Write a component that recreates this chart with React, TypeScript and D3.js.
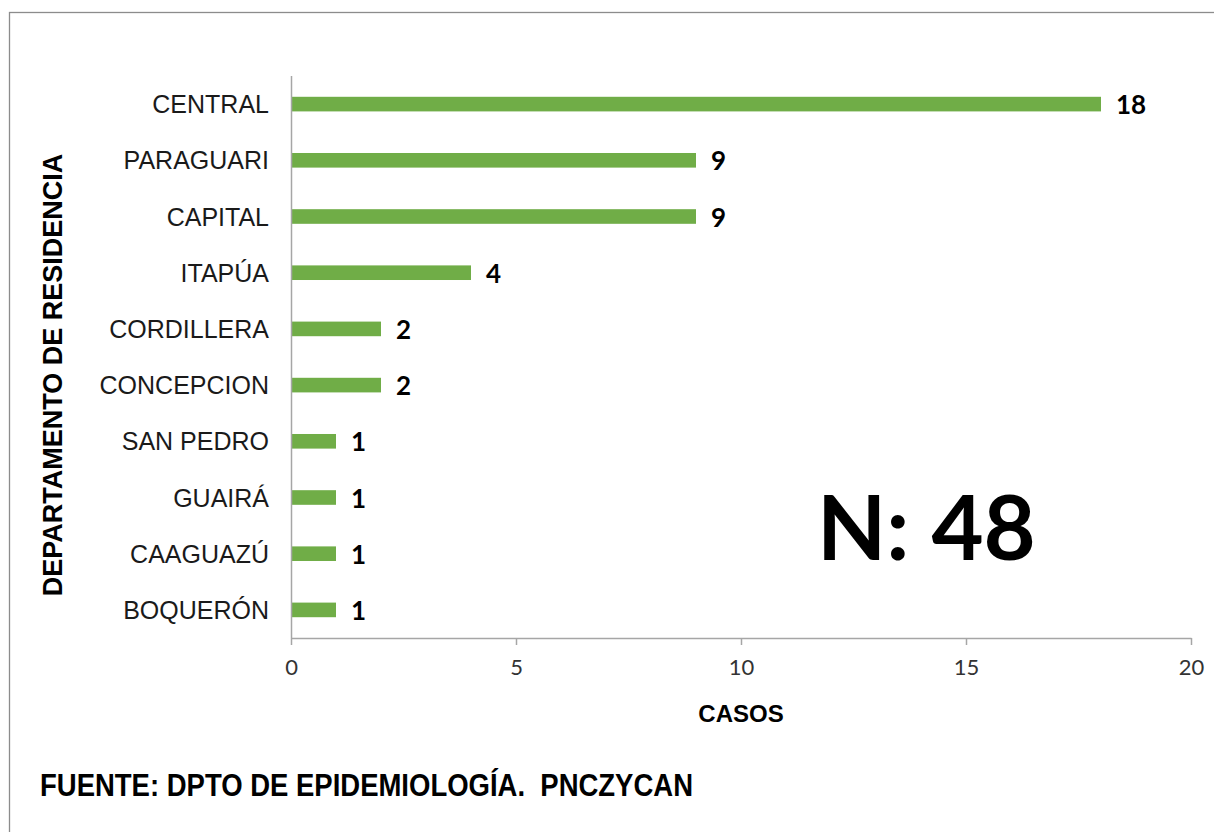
import { useEffect, useRef } from 'react';
import * as d3 from 'd3';

const departamentos = [
  'CENTRAL',
  'PARAGUARI',
  'CAPITAL',
  'ITAPÚA',
  'CORDILLERA',
  'CONCEPCION',
  'SAN PEDRO',
  'GUAIRÁ',
  'CAAGUAZÚ',
  'BOQUERÓN',
];
const casos = [18, 9, 9, 4, 2, 2, 1, 1, 1, 1];
const xTicks = [0, 5, 10, 15, 20];

const totalLabel = 'N: 48';
const xTitle = 'CASOS';
const yTitle = 'DEPARTAMENTO DE RESIDENCIA';
const fuente = 'FUENTE: DPTO DE EPIDEMIOLOGÍA.  PNCZYCAN';

export default function App() {
  const svgRef = useRef<SVGSVGElement>(null);

  useEffect(() => {
    if (!svgRef.current) return;
    const svg = d3.select(svgRef.current);
    svg.selectAll('*').remove();

    const width = 1214;
    const height = 832;
    const margin = { top: 76, left: 291, right: 23, bottom: 194 };
    const chartWidth = width - margin.left - margin.right;
    const chartHeight = height - margin.top - margin.bottom;

    svg.append('rect').attr('width', width).attr('height', height).attr('fill', '#fff');

    // marco (bordes derecho / inferior quedan fuera)
    svg
      .append('rect')
      .attr('x', 9.5)
      .attr('y', 12.5)
      .attr('width', width)
      .attr('height', height)
      .attr('fill', 'none')
      .attr('stroke', '#8c8c8c')
      .attr('stroke-width', 1.3);

    const g = svg.append('g').attr('transform', `translate(${margin.left},${margin.top})`);

    const x = d3.scaleLinear().domain([0, 20]).range([0, chartWidth]);
    const y = d3
      .scaleBand<string>()
      .domain(departamentos)
      .range([0, chartHeight])
      .paddingInner(0.74)
      .paddingOuter(0.37);

    const rows = departamentos.map((d, i) => ({ name: d, value: casos[i] }));

    // barras
    g.selectAll('.bar')
      .data(rows)
      .enter()
      .append('rect')
      .attr('class', 'bar')
      .attr('x', 0)
      .attr('y', (d) => y(d.name)!)
      .attr('width', (d) => x(d.value))
      .attr('height', y.bandwidth())
      .attr('fill', '#70ad47');

    // etiquetas de valor
    g.selectAll('.val')
      .data(rows)
      .enter()
      .append('text')
      .attr('class', 'val')
      .attr('x', (d) => x(d.value) + 15)
      .attr('y', (d) => y(d.name)! + y.bandwidth() / 2 + 10)
      .style('font-family', 'Lato, "Open Sans", sans-serif')
      .style('font-weight', '700')
      .style('font-size', '26px')
      .style('fill', '#000')
      .text((d) => d.value);

    // categorías
    g.selectAll('.cat')
      .data(rows)
      .enter()
      .append('text')
      .attr('class', 'cat')
      .attr('x', -22)
      .attr('y', (d) => y(d.name)! + y.bandwidth() / 2 + 9)
      .attr('text-anchor', 'end')
      .style('font-family', '"Liberation Sans", Arial, sans-serif')
      .style('font-size', '25px')
      .style('fill', '#1a1a1a')
      .text((d) => d.name);

    // eje Y
    g.append('line')
      .attr('x1', 0.5)
      .attr('x2', 0.5)
      .attr('y1', 0)
      .attr('y2', chartHeight)
      .attr('stroke', '#a6a6a6')
      .attr('stroke-width', 1.5);

    // eje X
    const xAxis = g
      .append('g')
      .attr('transform', `translate(0,${chartHeight})`)
      .call(d3.axisBottom(x).tickValues(xTicks).tickSize(7).tickSizeOuter(0).tickPadding(14));
    xAxis.select('.domain').attr('stroke', '#a6a6a6').attr('stroke-width', 1.5);
    xAxis.selectAll('.tick line').attr('stroke', '#a6a6a6').attr('stroke-width', 1.5);
    xAxis
      .selectAll('.tick text')
      .style('font-family', 'Lato, "Open Sans", sans-serif')
      .style('font-size', '22px')
      .style('fill', '#333');

    // títulos
    svg
      .append('text')
      .attr('x', margin.left + chartWidth / 2)
      .attr('y', 722)
      .attr('text-anchor', 'middle')
      .style('font-family', '"Liberation Sans", Arial, sans-serif')
      .style('font-weight', '700')
      .style('font-size', '24px')
      .style('fill', '#000')
      .text(xTitle);

    svg
      .append('text')
      .attr('transform', `translate(62,375) rotate(-90)`)
      .attr('text-anchor', 'middle')
      .style('font-family', '"Liberation Sans", Arial, sans-serif')
      .style('font-weight', '700')
      .style('font-size', '27px')
      .style('fill', '#000')
      .text(yTitle);

    // total
    svg
      .append('text')
      .attr('x', 817)
      .attr('y', 560)
      .style('font-family', 'Lato, "Open Sans", sans-serif')
      .style('font-weight', '700')
      .style('font-size', '90px')
      .style('fill', '#000')
      .text(totalLabel);

    // fuente
    svg
      .append('text')
      .attr('x', 40)
      .attr('y', 796)
      .attr('textLength', 653)
      .attr('lengthAdjust', 'spacingAndGlyphs')
      .style('font-family', '"Liberation Sans", Arial, sans-serif')
      .style('font-weight', '700')
      .style('font-size', '31px')
      .style('fill', '#000')
      .style('white-space', 'pre')
      .text(fuente);
  }, []);

  return (
    <svg
      ref={svgRef}
      width={1214}
      height={832}
      style={{ position: 'absolute', left: 0, top: 0, display: 'block' }}
    ></svg>
  );
}
